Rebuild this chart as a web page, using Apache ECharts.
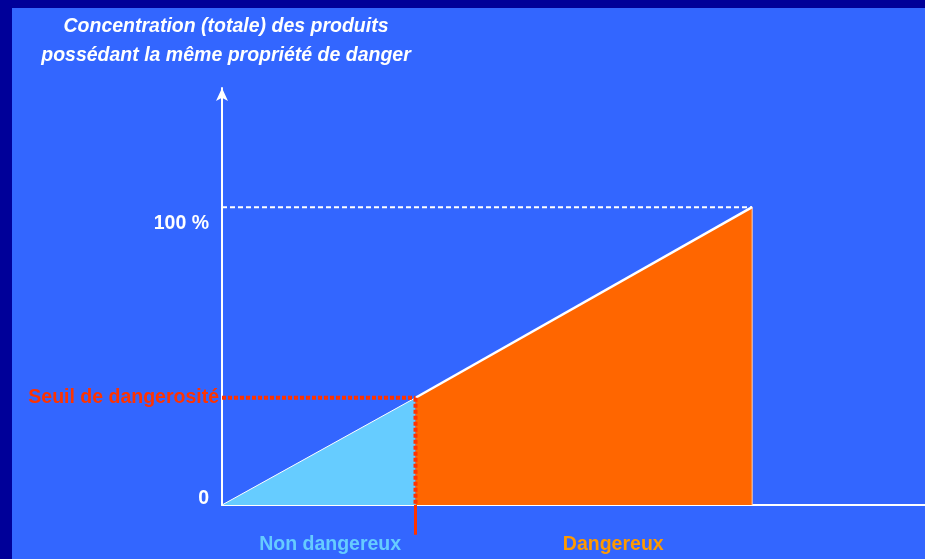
<!DOCTYPE html>
<html><head><meta charset="utf-8">
<script src="https://cdn.jsdelivr.net/npm/echarts@6/dist/echarts.min.js"></script>
<style>
html,body{margin:0;padding:0;background:#000099;width:925px;height:559px;overflow:hidden}
#c{position:absolute;left:12px;top:8px;width:913px;height:551px}
</style></head><body>
<div id="c"></div>
<script>
// Data
const axisTitle = ['Concentration (totale) des produits', 'possédant la même propriété de danger'];
const yTickLabels = {0: '0', 100: '100 %'};
const thresholdX = 36.5;     // seuil de dangerosité (position on x)
const thresholdY = 36;       // seuil de dangerosité (% concentration)
const fullScale = 100;       // 100 %
const nonDangerLine = [[0, 0], [thresholdX, thresholdY]];
const dangerLine = [[thresholdX, thresholdY], [fullScale, fullScale]];
const hundredLine = [[0, fullScale], [fullScale, fullScale]];
const dangerRightEdge = [[fullScale, 0], [fullScale, fullScale]];
const seuilHLine = [[0, thresholdY], [thresholdX, thresholdY]];
const seuilVLine = [[thresholdX, thresholdY], [thresholdX, 0]];
const seuilTick = [[thresholdX, 0], [thresholdX, -10]];
const seuilLabel = 'Seuil de dangerosité';
const zoneLabels = ['Non dangereux', 'Dangereux'];

const FONT = 'Liberation Sans, Arial, sans-serif';
const chart = echarts.init(document.getElementById('c'), null, {renderer: 'canvas'});
const zonePos = [20.4, 73.8];
chart.setOption({
  backgroundColor: '#3366FF',
  animation: false,
  grid: {left: 210, right: 0, top: 80, bottom: 54},
  xAxis: {
    type: 'value', min: 0, max: 132.6,
    splitLine: {show: false},
    axisTick: {show: false},
    axisLine: {lineStyle: {color: '#FFFFFF', width: 2}},
    axisLabel: {
      customValues: zonePos, margin: 30,
      formatter: v => v === zonePos[0] ? '{a|' + zoneLabels[0] + '}' : '{b|' + zoneLabels[1] + '}',
      rich: {
        a: {color: '#66CCFF', fontWeight: 'bold', fontSize: 19.5, fontFamily: FONT},
        b: {color: '#FF9900', fontWeight: 'bold', fontSize: 19.5, fontFamily: FONT}
      }
    }
  },
  yAxis: {
    type: 'value', min: 0, max: 140,
    splitLine: {show: false},
    axisTick: {show: false},
    axisLine: {onZero: false, lineStyle: {color: '#FFFFFF', width: 2}, symbol: ['none', 'arrow'], symbolSize: [9, 13]},
    axisLabel: {
      customValues: [0, 100], margin: 13,
      formatter: v => v === 100 ? '{h|' + yTickLabels[v] + '}' : '{z|' + yTickLabels[v] + '}',
      rich: {
        h: {color: '#FFFFFF', fontWeight: 'bold', fontSize: 19.5, fontFamily: FONT, padding: [32, 0, 0, 0]},
        z: {color: '#FFFFFF', fontWeight: 'bold', fontSize: 19.5, fontFamily: FONT, padding: [0, 0, 13, 0]}
      }
    },
    name: axisTitle.join('\n'), nameLocation: 'end', nameGap: 18,
    nameTextStyle: {color: '#FFFFFF', fontWeight: 'bold', fontStyle: 'italic', fontSize: 19.5, fontFamily: FONT, lineHeight: 29, align: 'center', padding: [0, 0, 0, 8]}
  },
  series: [
    {type: 'line', data: nonDangerLine, symbol: 'none', lineStyle: {color: '#FFFFFF', width: 1}, areaStyle: {color: '#66CCFF', opacity: 1}, z: 2},
    {type: 'line', data: dangerLine, symbol: 'none', lineStyle: {color: '#FFFFFF', width: 2.5}, areaStyle: {color: '#FF6600', opacity: 1}, z: 2},
    {type: 'line', data: dangerRightEdge, symbol: 'none', lineStyle: {color: '#FFD0B0', width: 1}, z: 3},
    {type: 'line', data: hundredLine, symbol: 'none', lineStyle: {color: '#FFFFFF', width: 2, type: [5, 3]}, z: 3},
    {type: 'line', data: [{value: seuilHLine[0], label: {show: true, formatter: seuilLabel}}, seuilHLine[1]],
      symbol: 'circle', symbolSize: 0, showSymbol: true,
      lineStyle: {color: '#FF3300', width: 4, type: [4, 2]},
      label: {show: false, position: 'left', distance: 3, color: '#FF3300', fontWeight: 'bold', fontSize: 19.5, fontFamily: FONT}, z: 4},
    {type: 'line', data: seuilVLine, symbol: 'none', lineStyle: {color: '#FF3300', width: 4, type: [4, 2]}, z: 4},
    {type: 'line', data: seuilTick, symbol: 'none', clip: false, lineStyle: {color: '#FF3300', width: 3}, z: 4}
  ]
});
</script>
</body></html>
